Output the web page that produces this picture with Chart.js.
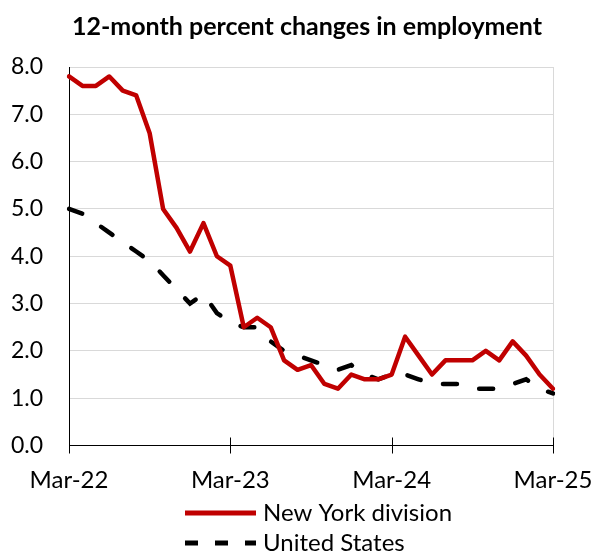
<!DOCTYPE html>
<html>
<head>
<meta charset="utf-8">
<script src="https://cdn.jsdelivr.net/npm/chart.js@4.4.1/dist/chart.umd.min.js"></script>
<style>
  html, body { margin: 0; padding: 0; background: #fff; }
  canvas { display: block; }
</style>
</head>
<body>
<canvas id="c" width="595" height="552"></canvas>
<script>
const chartTitle = '12-month percent changes in employment';
const months = [
  'Mar-22','Apr-22','May-22','Jun-22','Jul-22','Aug-22','Sep-22','Oct-22','Nov-22','Dec-22',
  'Jan-23','Feb-23','Mar-23','Apr-23','May-23','Jun-23','Jul-23','Aug-23','Sep-23','Oct-23','Nov-23','Dec-23',
  'Jan-24','Feb-24','Mar-24','Apr-24','May-24','Jun-24','Jul-24','Aug-24','Sep-24','Oct-24','Nov-24','Dec-24',
  'Jan-25','Feb-25','Mar-25'
];
const nyDivision = [
  7.8, 7.6, 7.6, 7.8, 7.5, 7.4, 6.6, 5.0, 4.6, 4.1,
  4.7, 4.0, 3.8, 2.5, 2.7, 2.5, 1.8, 1.6, 1.7, 1.3, 1.2, 1.5,
  1.4, 1.4, 1.5, 2.3, 1.9, 1.5, 1.8, 1.8, 1.8, 2.0, 1.8, 2.2,
  1.9, 1.5, 1.2
];
const unitedStates = [
  5.0, 4.9, 4.7, 4.5, 4.3, 4.1, 3.9, 3.6, 3.3, 3.0,
  3.2, 2.8, 2.6, 2.5, 2.5, 2.2, 2.0, 1.9, 1.8, 1.7, 1.6, 1.7,
  1.5, 1.4, 1.5, 1.5, 1.4, 1.3, 1.3, 1.3, 1.2, 1.2, 1.2, 1.3,
  1.4, 1.2, 1.1
];
const seriesNames = ['New York division', 'United States'];
const yMin = 0, yMax = 8, yStep = 1;
const labelEvery = 12;

const FONT = 'Lato, "Open Sans", sans-serif';

const decorPlugin = {
  id: 'decor',
  beforeDatasetsDraw(chart) {
    const ctx = chart.ctx, a = chart.chartArea;
    ctx.save();
    ctx.strokeStyle = '#d9d9d9';
    ctx.lineWidth = 1;
    ctx.beginPath();
    ctx.moveTo(Math.round(a.right) + 0.5, a.top);
    ctx.lineTo(Math.round(a.right) + 0.5, a.bottom);
    ctx.stroke();
    ctx.restore();
  },
  afterDraw(chart) {
    const ctx = chart.ctx, a = chart.chartArea, xs = chart.scales.x;
    ctx.save();
    ctx.strokeStyle = '#000';
    ctx.lineWidth = 1;
    for (let i = 0; i < months.length; i += labelEvery) {
      const x = Math.round(xs.getPixelForValue(i)) + 0.5;
      ctx.beginPath();
      ctx.moveTo(x, a.bottom - 8);
      ctx.lineTo(x, a.bottom + 8);
      ctx.stroke();
    }
    ctx.fillStyle = '#000';
    ctx.font = 'bold 25px ' + FONT;
    ctx.textAlign = 'center';
    ctx.textBaseline = 'middle';
    ctx.fillText(chartTitle, 307, 27);
    const ds = chart.data.datasets;
    const rows = [513, 543];
    ctx.font = '24px ' + FONT;
    ctx.textAlign = 'left';
    rows.forEach((y, k) => {
      ctx.save();
      ctx.strokeStyle = ds[k].borderColor;
      ctx.lineWidth = 5;
      ctx.lineCap = 'butt';
      if (k === 1) ctx.setLineDash([13, 17]);
      ctx.beginPath();
      ctx.moveTo(185, y);
      ctx.lineTo(256, y);
      ctx.stroke();
      ctx.restore();
      ctx.fillStyle = '#000';
      ctx.fillText(ds[k].label, 263, y);
    });
    ctx.restore();
  }
};

new Chart(document.getElementById('c'), {
  type: 'line',
  data: {
    labels: months,
    datasets: [
      {
        label: seriesNames[0],
        data: nyDivision,
        borderColor: '#C00000',
        borderWidth: 4.5,
        pointRadius: 0,
        tension: 0,
        borderJoinStyle: 'round',
        borderCapStyle: 'round'
      },
      {
        label: seriesNames[1],
        data: unitedStates,
        borderColor: '#000000',
        borderWidth: 4.5,
        borderDash: [14, 23],
        borderCapStyle: 'round',
        pointRadius: 0,
        tension: 0
      }
    ]
  },
  options: {
    responsive: false,
    animation: false,
    devicePixelRatio: 1,
    layout: { padding: { top: 67, right: 42, left: 0, bottom: 0 } },
    plugins: {
      legend: { display: false },
      title: { display: false },
      tooltip: { enabled: false }
    },
    scales: {
      x: {
        type: 'category',
        offset: false,
        grid: { display: false },
        border: { display: true, color: '#000', width: 1 },
        ticks: {
          autoSkip: false,
          maxRotation: 0,
          minRotation: 0,
          padding: 12,
          color: '#000',
          font: { family: FONT, size: 24 },
          callback: (v, i) => (i % labelEvery === 0 ? months[i] : '')
        },
        afterFit: (s) => { s.height = 106.5; s.paddingLeft = 0; s.paddingRight = 0; }
      },
      y: {
        min: yMin,
        max: yMax,
        grid: { color: '#d9d9d9', lineWidth: 1, drawTicks: false },
        border: { display: true, color: '#000', width: 1 },
        ticks: {
          stepSize: yStep,
          padding: 26,
          color: '#000',
          font: { family: FONT, size: 23 },
          callback: (v) => Number(v).toFixed(1)
        },
        afterFit: (s) => { s.width = 69; s.paddingTop = 0; s.paddingBottom = 0; }
      }
    }
  },
  plugins: [decorPlugin]
});
</script>
</body>
</html>
